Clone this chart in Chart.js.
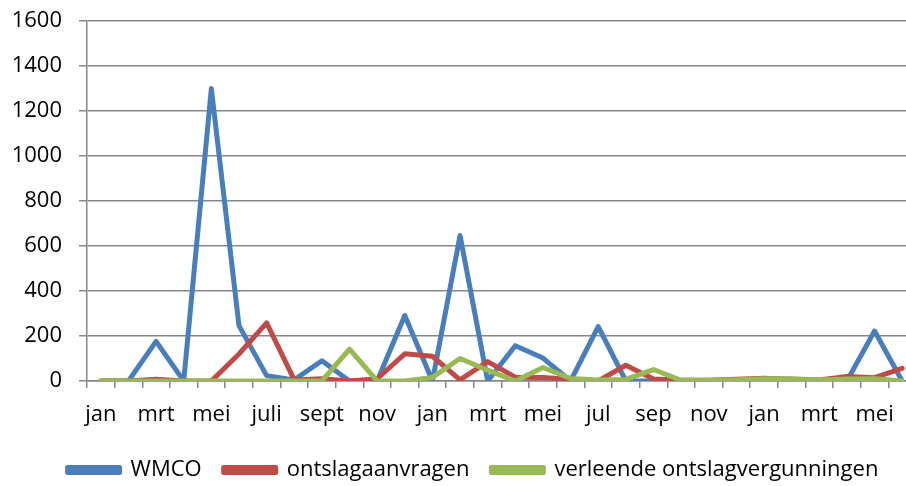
<!DOCTYPE html>
<html lang="nl">
<head>
  <meta charset="UTF-8" />
  <title>WMCO en ontslagen</title>
  <script src="https://cdn.jsdelivr.net/npm/chart.js"></script>
  <style>
    body {
      background-color: #ffffff;
      margin: 0;
      padding: 0;
      overflow: hidden;
    }

    /* slightly bigger than the window: the plot runs off the right edge like the original */
    .wrap {
      width: 946px;
      height: 491px;
    }
  </style>
</head>
<body>
  <div class="wrap">
    <canvas id="chart" width="946" height="491"></canvas>
  </div>

  <script>
    const months = ['jan', 'feb', 'mrt', 'apr', 'mei', 'jun', 'juli', 'aug', 'sept', 'okt', 'nov', 'dec',
                    'jan', 'feb', 'mrt', 'apr', 'mei', 'jun', 'jul', 'aug', 'sep', 'okt', 'nov', 'dec',
                    'jan', 'feb', 'mrt', 'apr', 'mei', 'jun'];

    const wmco = [0, 0, 176, 0, 1300, 246, 24, 5, 90, 0,
                  0, 291, 0, 647, 0, 157, 102, 0, 242, 0,
                  0, 0, 0, 0, 0, 0, 0, 0, 222, 0];

    const ontslagaanvragen = [0, 0, 8, 0, 0, 120, 258, 5, 10, 0,
                              10, 121, 110, 5, 86, 17, 16, 7, 0, 70,
                              9, 3, 3, 8, 12, 8, 5, 20, 15, 56];

    const vergunningen = [0, 0, 0, 0, 0, 0, 0, 0, 0, 142,
                          0, 0, 16, 100, 48, 0, 60, 11, 4, 7,
                          51, 3, 3, 6, 10, 10, 5, 9, 10, 0];

    const gridGray = '#868686';
    const font = { family: 'Open Sans', size: 22 };

    // legend sits a bit right of the canvas centre in the original
    const legendShift = {
      id: 'legendShift',
      afterLayout: function (c) {
        c.legend.left += 15;
        c.legend.right += 15;
      }
    };

    const ctx = document.getElementById('chart').getContext('2d');
    const chart = new Chart(ctx, {
      type: 'line',
      data: {
        labels: months,
        datasets: [
          // order: green drawn on top, then red, then blue (like Excel)
          { label: 'WMCO', data: wmco, borderColor: '#4a7ebb', backgroundColor: '#4a7ebb', order: 3 },
          { label: 'ontslagaanvragen', data: ontslagaanvragen, borderColor: '#be4b48', backgroundColor: '#be4b48', order: 2 },
          { label: 'verleende ontslagvergunningen', data: vergunningen, borderColor: '#98b954', backgroundColor: '#98b954', order: 1 }
        ]
      },
      plugins: [legendShift],
      options: {
        responsive: false,
        animation: false,
        layout: { padding: { top: 0, right: 30, bottom: 0, left: 0 } },
        elements: {
          line: { borderWidth: 5, tension: 0, borderJoinStyle: 'round', borderCapStyle: 'round' },
          point: { radius: 0 }
        },
        scales: {
          x: {
            offset: true,
            grid: { offset: true, drawOnChartArea: false, color: gridGray, tickLength: 7, lineWidth: 1.5 },
            border: { color: gridGray, width: 1.5 },
            ticks: {
              autoSkip: false,
              maxRotation: 0,
              color: '#000',
              font: font,
              padding: 14,
              callback: function (v, i) { return i % 2 === 0 ? months[i] : ''; }
            },
            afterFit: function (scale) { scale.height = 56; }
          },
          y: {
            min: 0,
            max: 1600,
            ticks: {
              stepSize: 200,
              color: '#000',
              font: font,
              padding: 17,
              callback: function (v) { return String(v); }
            },
            grid: { color: gridGray, tickLength: 8, lineWidth: 1.5 },
            border: { color: gridGray, width: 1.5 },
            afterFit: function (scale) {
              scale.width = 87;
              scale.paddingTop = 21;
            }
          }
        },
        plugins: {
          legend: {
            position: 'bottom',
            align: 'center',
            labels: {
              color: '#000',
              font: font,
              boxWidth: 52,
              boxHeight: 5,
              padding: 22,
              sort: function (a, b) { return a.datasetIndex - b.datasetIndex; }
            }
          },
          tooltip: { enabled: false }
        }
      }
    });
  </script>
</body>
</html>
